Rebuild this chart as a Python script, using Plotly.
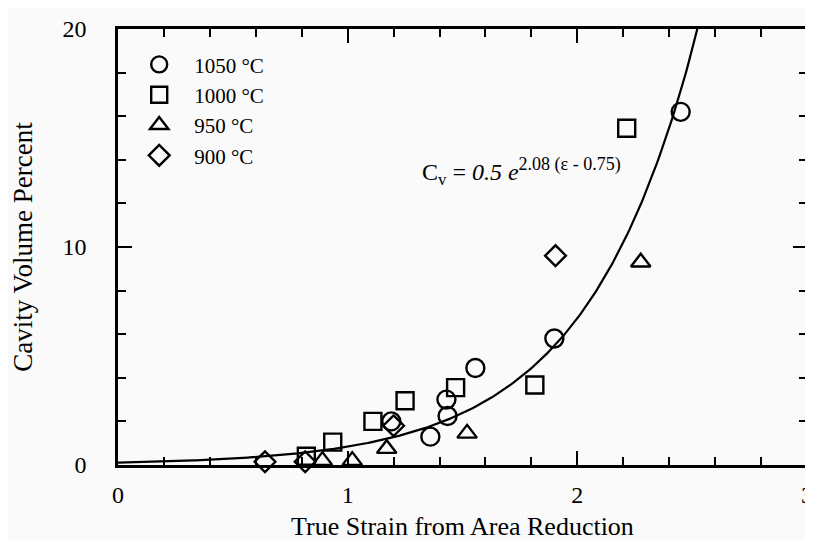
import numpy as np
import plotly.graph_objects as go

# ---- data ----
x_1050 = [2.45, 1.90, 1.556, 1.43, 1.435, 1.36, 1.19]
y_1050 = [16.2, 5.8, 4.45, 3.0, 2.25, 1.3, 2.0]

x_1000 = [2.215, 1.815, 1.47, 1.25, 1.11, 0.935, 0.82]
y_1000 = [15.45, 3.67, 3.55, 2.95, 2.0, 1.05, 0.4]

x_950 = [2.276, 1.52, 1.17, 1.02, 0.89, 0.82]
y_950 = [9.3, 1.45, 0.75, 0.2, 0.2, -0.2]

x_900 = [1.905, 1.20, 0.815, 0.64]
y_900 = [9.6, 1.8, 0.15, 0.15]

# fitted curve coefficients (from the equation shown on the chart)
fit_a, fit_b, fit_c = 0.5, 2.08, 0.75
fit_x = np.linspace(0, 2.6, 300)
fit_y = fit_a * np.exp(fit_b * (fit_x - fit_c))

series_names = ["1050 °C", "1000 °C", "950 °C", "900 °C"]

FONT = "Liberation Serif"
BG = "#fafafa"

fig = go.Figure()
fig.add_trace(go.Scatter(x=fit_x, y=fit_y, mode="lines",
                         line=dict(color="black", width=2.2),
                         showlegend=False, hoverinfo="skip"))

specs = [
    (x_1050, y_1050, "circle-open", 18),
    (x_1000, y_1000, "square-open", 17),
    (x_950, y_950, "triangle-up-open", 17),
    (x_900, y_900, "diamond-open", 16),
]
for (xs, ys, sym, sz), name in zip(specs, series_names):
    fig.add_trace(go.Scatter(
        x=xs, y=ys, mode="markers", name=name, cliponaxis=False,
        marker=dict(symbol=sym, size=sz, color="black",
                    line=dict(color="black", width=2.4))))

axis_common = dict(
    showgrid=False, zeroline=False, showline=True, linecolor="black",
    linewidth=2.5, mirror="ticks", ticks="inside", ticklen=14,
    tickwidth=2, tickcolor="black",
    tickfont=dict(family=FONT, size=24, color="black"),
)

fig.update_xaxes(
    range=[0, 3], tickvals=[0, 1, 2, 3], ticklabelstandoff=6,
    minor=dict(dtick=0.2, ticks="inside", ticklen=8, tickwidth=2,
               tickcolor="black"),
    title=dict(text="True Strain from Area Reduction",
               font=dict(family=FONT, size=26, color="black"),
               standoff=11),
    **axis_common)
fig.update_yaxes(
    range=[0, 20], tickvals=[0, 10, 20], ticklabelstandoff=24,
    minor=dict(dtick=2, ticks="inside", ticklen=8, tickwidth=2,
               tickcolor="black"),
    title=dict(text="Cavity Volume Percent",
               font=dict(family=FONT, size=27, color="black"),
               standoff=26),
    **axis_common)

fig.add_annotation(
    x=1.315, y=13.45, xref="x", yref="y", xanchor="left", yanchor="middle",
    text=("C<sub>v</sub> = <i>0.5 e</i><sup><span style='font-size:18px'>"
          "2.08 (ε - 0.75)</span></sup>"),
    showarrow=False, font=dict(family=FONT, size=24, color="black"))

fig.update_layout(
    width=813, height=540,
    margin=dict(l=110, r=8, t=20, b=83),
    paper_bgcolor=BG, plot_bgcolor=BG,
    font=dict(family=FONT, color="black"),
    legend=dict(x=0.009, y=0.965, xanchor="left", yanchor="top",
                bgcolor="rgba(0,0,0,0)", font=dict(family=FONT, size=21),
                tracegroupgap=0, itemsizing="trace", itemwidth=60),
)

fig.write_html("out.html")
